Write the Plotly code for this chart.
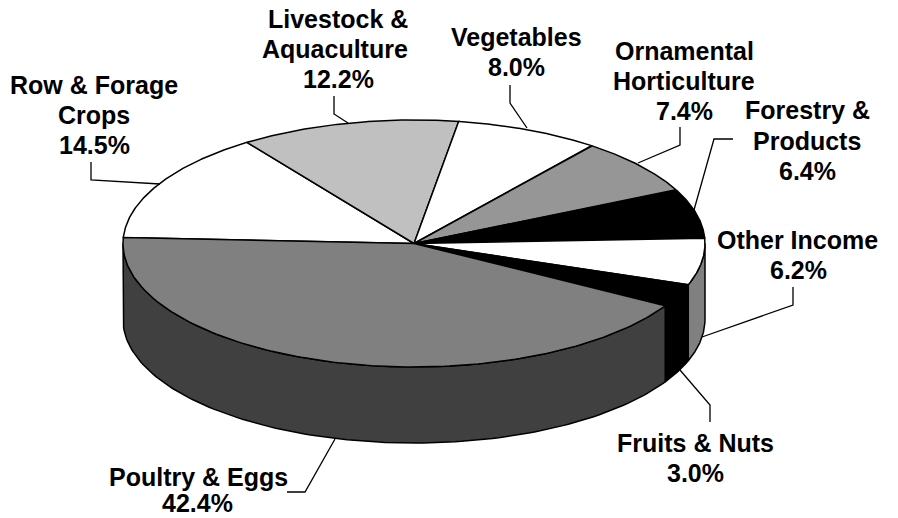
"""3D-style pie chart of farm income shares, drawn on hidden pixel axes."""
import numpy as np
import plotly.graph_objects as go

categories = ["Poultry & Eggs", "Row & Forage Crops", "Livestock & Aquaculture", "Vegetables",
              "Ornamental Horticulture", "Forestry & Products", "Other Income", "Fruits & Nuts"]
shares = [42.4, 14.5, 12.2, 8.0, 7.4, 6.4, 6.2, 3.0]
top_colors = ["#808080", "#ffffff", "#c0c0c0", "#ffffff", "#969696", "#000000", "#ffffff", "#000000"]
side_colors = ["#404040", "#ffffff", "#c0c0c0", "#ffffff", "#969696", "#000000", "#808080", "#000000"]

# label lines as (text, centre x, centre y)
label_lines = [
    ("Row & Forage", 94, 85), ("Crops", 94, 115), ("14.5%", 94, 145),
    ("Livestock &", 338, 19), ("Aquaculture", 335, 49), ("12.2%", 338, 79),
    ("Vegetables", 516, 37), ("8.0%", 516, 67),
    ("Ornamental", 684, 51), ("Horticulture", 684, 81), ("7.4%", 684, 111),
    ("Forestry &", 807, 110), ("Products", 807, 141), ("6.4%", 807, 171),
    ("Other Income", 797, 240), ("6.2%", 798, 270),
    ("Fruits & Nuts", 695, 443), ("3.0%", 695, 473),
    ("Poultry & Eggs", 198, 477), ("42.4%", 197, 503),
]
leader_x = [[91, 91, 160], [334, 334, 348], [510, 510, 527], [680, 680, 638],
            [733, 714, 694], [793, 793, 702], [710, 710, 680], [287, 305, 335]]
leader_y = [[162, 180, 184], [96, 114, 123], [85, 103, 128], [127, 145, 163],
            [139, 139, 210], [287, 305, 337], [422, 405, 370], [492, 492, 439]]

CX, CY, RX, RY, DEPTH = 414, 243.5, 291, 123.5, 76
START = 272.8 - 360  # poultry wedge ends here, going clockwise from the top
LINE = dict(color="black", width=1.5)


def rim(deg, drop=0):
    rad = np.radians(deg)
    return CX + RX * np.sin(rad), CY - RY * np.cos(rad) + drop


fig = go.Figure()

# wedge limits, clockwise, poultry last so it closes at START + 360
order = [1, 2, 3, 4, 5, 6, 7, 0]
total = sum(shares)
angle = START
limits = {}
for i in order:
    limits[i] = (angle, angle + shares[i] / total * 360)
    angle = limits[i][1]

# outer wall, only the front half of the rim shows
for i in order:
    a, b = max(limits[i][0], 90), min(limits[i][1], 270)
    if b <= a:
        continue
    arc = np.linspace(a, b, 120)
    x_top, y_top = rim(arc)
    x_low, y_low = rim(arc[::-1], DEPTH)
    fig.add_trace(go.Scatter(x=np.r_[x_top, x_low, x_top[0]], y=np.r_[y_top, y_low, y_top[0]],
                             mode="lines", fill="toself", fillcolor=side_colors[i], line=LINE,
                             name=categories[i], hoverinfo="name"))

# top face
for i in order:
    arc = np.linspace(limits[i][0], limits[i][1], 160)
    x_top, y_top = rim(arc)
    fig.add_trace(go.Scatter(x=np.r_[CX, x_top, CX], y=np.r_[CY, y_top, CY],
                             mode="lines", fill="toself", fillcolor=top_colors[i], line=LINE,
                             name=categories[i], hoverinfo="name"))

for lx, ly in zip(leader_x, leader_y):
    fig.add_trace(go.Scatter(x=lx, y=ly, mode="lines", hoverinfo="skip",
                             line=dict(color="black", width=1.3)))

for text, x, y in label_lines:
    fig.add_annotation(x=x, y=y, text=f"<b>{text}</b>", showarrow=False,
                       xanchor="center", yanchor="middle",
                       font=dict(family="Liberation Sans", size=25, color="black"))

fig.update_layout(
    width=898, height=518, margin=dict(l=0, r=0, t=0, b=0),
    paper_bgcolor="white", plot_bgcolor="white", showlegend=False,
    xaxis=dict(range=[0, 898], visible=False, fixedrange=True),
    yaxis=dict(range=[518, 0], visible=False, fixedrange=True),
)
fig.write_html("out.html", post_script="document.body.style.margin='0';", config={"displayModeBar": False})
